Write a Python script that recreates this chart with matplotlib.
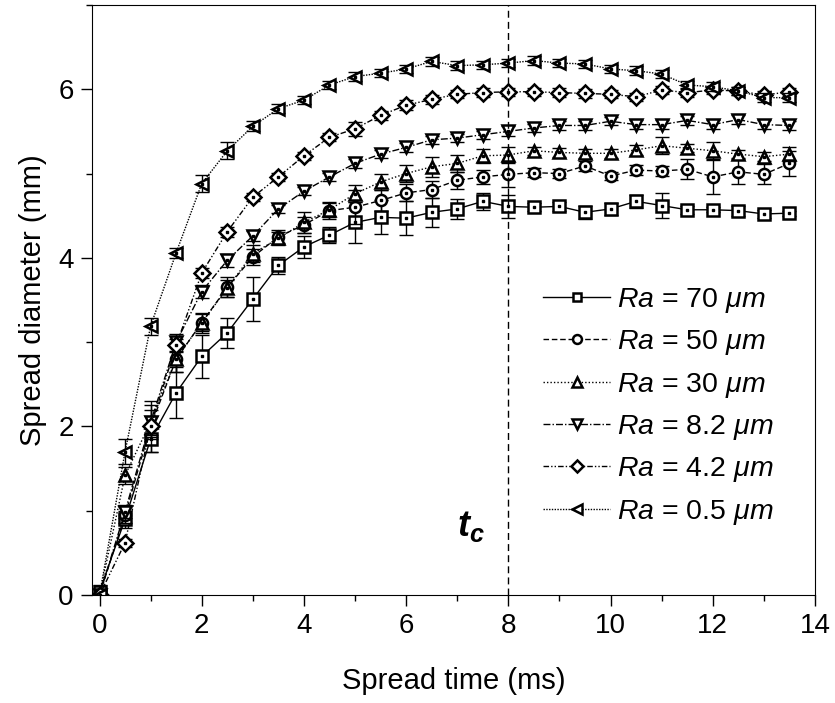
import numpy as np
import matplotlib
matplotlib.use("Agg")
import matplotlib.pyplot as plt
from matplotlib.ticker import MultipleLocator

plt.rcParams['font.family'] = ['Liberation Sans', 'DejaVu Sans']
plt.rcParams['mathtext.fontset'] = 'custom'
plt.rcParams['mathtext.rm'] = 'Liberation Sans'
plt.rcParams['mathtext.it'] = 'Liberation Sans:italic'
plt.rcParams['mathtext.bf'] = 'Liberation Sans:bold:italic'

# spread time (ms)
time = np.arange(0, 14, 0.5)

# spread diameter (mm) for each roughness
d_70 = [0.04, 0.90, 1.85, 2.40, 2.83, 3.11, 3.51, 3.91, 4.13, 4.27, 4.42, 4.48, 4.47, 4.54,
        4.58, 4.67, 4.61, 4.60, 4.61, 4.54, 4.58, 4.67, 4.62, 4.57, 4.57, 4.56, 4.52, 4.53]
d_50 = [0.00, 0.95, 2.00, 2.80, 3.23, 3.65, 4.01, 4.25, 4.39, 4.56, 4.60, 4.68, 4.77, 4.81,
        4.92, 4.96, 4.99, 5.01, 5.00, 5.09, 4.97, 5.04, 5.03, 5.05, 4.96, 5.02, 4.99, 5.12]
d_30 = [0.00, 1.42, 2.05, 2.80, 3.23, 3.64, 4.05, 4.23, 4.42, 4.57, 4.76, 4.90, 5.00, 5.08,
        5.12, 5.21, 5.22, 5.27, 5.25, 5.24, 5.24, 5.28, 5.33, 5.30, 5.27, 5.23, 5.20, 5.23]
d_8_2 = [0.00, 0.99, 2.05, 3.00, 3.60, 3.97, 4.26, 4.58, 4.79, 4.96, 5.12, 5.23, 5.31, 5.40,
         5.42, 5.46, 5.50, 5.54, 5.57, 5.57, 5.62, 5.58, 5.58, 5.63, 5.58, 5.64, 5.58, 5.57]
d_4_2 = [0.00, 0.62, 2.00, 2.96, 3.82, 4.31, 4.72, 4.96, 5.21, 5.43, 5.53, 5.69, 5.81, 5.88,
         5.94, 5.96, 5.97, 5.97, 5.96, 5.95, 5.94, 5.91, 5.99, 5.96, 5.99, 5.98, 5.93, 5.97]
d_0_5 = [0.00, 1.70, 3.19, 4.06, 4.88, 5.27, 5.56, 5.77, 5.87, 6.05, 6.15, 6.19, 6.24, 6.33,
         6.28, 6.29, 6.31, 6.34, 6.31, 6.30, 6.24, 6.22, 6.18, 6.05, 6.03, 5.98, 5.90, 5.90]

# error bars (mm)
e_70 = [0.08, 0.10, 0.15, 0.30, 0.25, 0.18, 0.26, 0.10, 0.13, 0.10, 0.24, 0.20, 0.20, 0.17,
        0.12, 0.10, 0.14, 0.05, 0.05, 0.08, 0.07, 0.08, 0.15, 0.05, 0.03, 0.06, 0.05, 0.03]
e_50 = [0.00, 0.10, 0.30, 0.15, 0.10, 0.12, 0.10, 0.08, 0.10, 0.10, 0.20, 0.12, 0.10, 0.10,
        0.10, 0.08, 0.15, 0.05, 0.05, 0.06, 0.05, 0.06, 0.06, 0.12, 0.20, 0.15, 0.12, 0.15]
e_30 = [0.00, 0.10, 0.20, 0.15, 0.12, 0.10, 0.10, 0.08, 0.12, 0.08, 0.10, 0.10, 0.10, 0.12,
        0.10, 0.08, 0.10, 0.05, 0.05, 0.05, 0.05, 0.06, 0.10, 0.05, 0.10, 0.05, 0.05, 0.08]
e_8_2 = [0.00, 0.08, 0.15, 0.10, 0.08, 0.08, 0.06, 0.05, 0.05, 0.05, 0.05, 0.05, 0.05, 0.05,
         0.05, 0.05, 0.06, 0.05, 0.05, 0.05, 0.05, 0.05, 0.05, 0.05, 0.05, 0.05, 0.05, 0.05]
e_4_2 = [0.00, 0.05, 0.12, 0.08, 0.06, 0.06, 0.05, 0.05, 0.05, 0.05, 0.08, 0.05, 0.06, 0.05,
         0.05, 0.05, 0.05, 0.05, 0.05, 0.05, 0.05, 0.05, 0.05, 0.05, 0.05, 0.05, 0.05, 0.05]
e_0_5 = [0.00, 0.15, 0.10, 0.06, 0.10, 0.10, 0.06, 0.05, 0.05, 0.05, 0.05, 0.05, 0.05, 0.05,
         0.05, 0.05, 0.05, 0.05, 0.05, 0.05, 0.05, 0.05, 0.05, 0.05, 0.05, 0.05, 0.05, 0.05]

labels = [r'$Ra$ = 70 $\mu m$', r'$Ra$ = 50 $\mu m$', r'$Ra$ = 30 $\mu m$',
          r'$Ra$ = 8.2 $\mu m$', r'$Ra$ = 4.2 $\mu m$', r'$Ra$ = 0.5 $\mu m$']
series = [d_70, d_50, d_30, d_8_2, d_4_2, d_0_5]
errors = [e_70, e_50, e_30, e_8_2, e_4_2, e_0_5]
markers = ['s', 'o', '^', 'v', 'D', '<']
sizes = [8, 8, 9, 9, 8, 9]
styles = ['-', (0, (4, 2)), (0, (1, 1.5)), (0, (5, 1.5, 1, 1.5)),
          (0, (4, 1.5, 1, 1.5, 1, 1.5)), (0, (1, 1))]

fig = plt.figure(figsize=(8.35, 7.03), dpi=100)
ax = fig.add_axes([0.110, 0.1536, 0.866, 0.8394])

for y, e, m, ms, ls, lab in zip(series, errors, markers, sizes, styles, labels):
    ax.errorbar(time, y, yerr=e, fmt='none', ecolor='black', elinewidth=1, capsize=5, capthick=1)
    ax.plot(time, y, color='black', linestyle=ls, linewidth=1, marker=m, markersize=ms,
            markerfacecolor='white', markeredgecolor='black', markeredgewidth=1.8, label=lab)
    ax.plot(time, y, linestyle='none', marker='s', markersize=1.6, color='black')

ax.axvline(8, color='black', linestyle=(0, (5, 3)), linewidth=1)
ax.text(7.55, 0.6, r'$\mathbf{t_c}$', fontsize=26, ha='right', va='bottom')

ax.set_xlim(-0.15, 14)
ax.set_ylim(0, 7)
ax.xaxis.set_major_locator(MultipleLocator(2))
ax.xaxis.set_minor_locator(MultipleLocator(1))
ax.yaxis.set_major_locator(MultipleLocator(2))
ax.yaxis.set_minor_locator(MultipleLocator(1))
ax.tick_params(which='major', direction='out', length=8, width=1, labelsize=20, pad=5)
ax.tick_params(which='minor', direction='out', length=4.5, width=1)
ax.set_xlabel('Spread time (ms)', fontsize=21, labelpad=20)
ax.set_ylabel('Spread diameter (mm)', fontsize=21, labelpad=8)

ax.legend(loc='upper left', bbox_to_anchor=(0.624, 0.524), frameon=False, fontsize=20.5,
          handlelength=2.35, labelspacing=0.47, handletextpad=0.25,
          borderpad=0, borderaxespad=0, markerscale=0.8)

plt.savefig('out.png', dpi=100)
